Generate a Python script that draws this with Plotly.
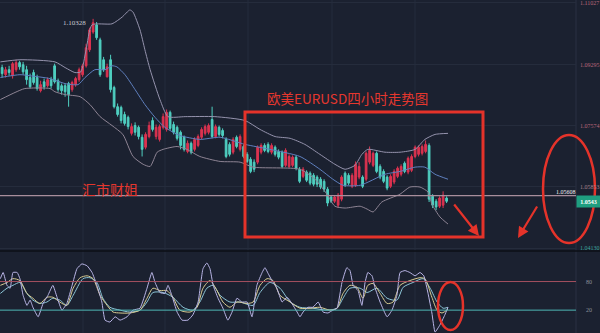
import plotly.graph_objects as go

# ---------------- data ----------------
candle_idx = list(range(128))
opens = [1.0921,1.0901,1.0915,1.0898,1.0915,1.0935,1.0929,1.0915,1.0893,1.0907,
         1.0893,1.0856,1.0881,1.0870,1.0887,1.0926,1.0884,1.0870,1.0870,1.0876,
         1.0859,1.0873,1.0887,1.0901,1.0926,1.0971,1.1021,1.1041,1.0999,1.0943,
         1.0895,1.0943,1.0865,1.0811,1.0809,1.0789,1.0781,1.0736,1.0758,1.0753,
         1.0725,1.0697,1.0727,1.0772,1.0727,1.0719,1.0753,1.0747,1.0795,1.0761,
         1.0753,1.0739,1.0725,1.0685,1.0708,1.0691,1.0702,1.0725,1.0736,1.0739,
         1.0775,1.0727,1.0753,1.0744,1.0719,1.0705,1.0683,1.0725,1.0691,1.0699,
         1.0677,1.0663,1.0655,1.0655,1.0683,1.0702,1.0705,1.0683,1.0697,1.0685,
         1.0683,1.0646,1.0643,1.0646,1.0669,1.0635,1.0615,1.0627,1.0624,1.0618,
         1.0613,1.0607,1.0601,1.0579,1.0557,1.0545,1.0534,1.0551,1.0624,1.0618,
         1.0587,1.0590,1.0613,1.0613,1.0607,1.0655,1.0646,1.0680,1.0643,1.0629,
         1.0613,1.0587,1.0599,1.0615,1.0621,1.0652,1.0627,1.0632,1.0671,1.0677,
         1.0680,1.0685,1.0702,1.0559,1.0545,1.0531,1.0534,1.0554]
closes = [1.0904,1.0915,1.0907,1.0932,1.0935,1.0923,1.0909,1.0887,1.0867,1.0879,
          1.0862,1.0873,1.0867,1.0887,1.0870,1.0881,1.0859,1.0856,1.0853,1.0845,
          1.0879,1.0890,1.0915,1.0926,1.0977,1.1027,1.1047,1.1005,1.0901,1.0915,
          1.0923,1.0859,1.0811,1.0789,1.0772,1.0764,1.0755,1.0755,1.0739,1.0727,
          1.0691,1.0733,1.0758,1.0747,1.0753,1.0755,1.0783,1.0795,1.0750,1.0739,
          1.0722,1.0702,1.0691,1.0708,1.0683,1.0719,1.0727,1.0747,1.0755,1.0758,
          1.0727,1.0755,1.0733,1.0730,1.0671,1.0677,1.0719,1.0699,1.0727,1.0671,
          1.0657,1.0629,1.0635,1.0697,1.0702,1.0688,1.0685,1.0702,1.0677,1.0669,
          1.0643,1.0688,1.0671,1.0669,1.0638,1.0601,1.0635,1.0604,1.0596,1.0593,
          1.0593,1.0585,1.0579,1.0540,1.0545,1.0557,1.0562,1.0613,1.0590,1.0596,
          1.0618,1.0649,1.0643,1.0587,1.0680,1.0688,1.0680,1.0629,1.0613,1.0601,
          1.0582,1.0615,1.0629,1.0638,1.0643,1.0629,1.0666,1.0671,1.0697,1.0697,
          1.0699,1.0705,1.0551,1.0534,1.0529,1.0554,1.0562,1.0545]
highs = [1.0929,1.0923,1.0926,1.0937,1.0943,1.0940,1.0937,1.0926,1.0904,1.0915,
         1.0901,1.0884,1.0890,1.0893,1.0895,1.0932,1.0890,1.0876,1.0876,1.0881,
         1.0884,1.0895,1.0921,1.0932,1.0988,1.1033,1.1058,1.1049,1.1005,1.0951,
         1.0932,1.0957,1.0870,1.0820,1.0814,1.0797,1.0786,1.0764,1.0767,1.0758,
         1.0733,1.0739,1.0769,1.0781,1.0761,1.0761,1.0792,1.0803,1.0800,1.0769,
         1.0758,1.0744,1.0730,1.0716,1.0713,1.0725,1.0733,1.0753,1.0761,1.0764,
         1.0811,1.0761,1.0758,1.0750,1.0725,1.0711,1.0725,1.0730,1.0733,1.0705,
         1.0683,1.0669,1.0663,1.0702,1.0708,1.0708,1.0711,1.0708,1.0702,1.0691,
         1.0688,1.0694,1.0677,1.0674,1.0674,1.0641,1.0641,1.0632,1.0629,1.0624,
         1.0618,1.0613,1.0607,1.0585,1.0562,1.0562,1.0568,1.0618,1.0629,1.0624,
         1.0624,1.0657,1.0655,1.0618,1.0685,1.0699,1.0685,1.0685,1.0649,1.0635,
         1.0618,1.0621,1.0635,1.0643,1.0649,1.0657,1.0671,1.0677,1.0702,1.0702,
         1.0705,1.0716,1.0708,1.0565,1.0551,1.0559,1.0573,1.0559]
lows = [1.0893,1.0893,1.0898,1.0890,1.0909,1.0915,1.0901,1.0873,1.0862,1.0873,
        1.0856,1.0851,1.0859,1.0865,1.0862,1.0876,1.0853,1.0845,1.0839,1.0811,
        1.0853,1.0867,1.0881,1.0895,1.0921,1.0965,1.1016,1.0999,1.0895,1.0909,
        1.0893,1.0851,1.0806,1.0783,1.0764,1.0758,1.0747,1.0730,1.0730,1.0719,
        1.0671,1.0691,1.0722,1.0741,1.0719,1.0713,1.0747,1.0741,1.0744,1.0733,
        1.0716,1.0691,1.0685,1.0680,1.0677,1.0685,1.0697,1.0719,1.0730,1.0733,
        1.0722,1.0722,1.0727,1.0722,1.0666,1.0671,1.0677,1.0694,1.0685,1.0666,
        1.0652,1.0624,1.0627,1.0649,1.0677,1.0683,1.0680,1.0677,1.0671,1.0663,
        1.0638,1.0641,1.0638,1.0641,1.0632,1.0596,1.0610,1.0599,1.0590,1.0587,
        1.0585,1.0579,1.0571,1.0531,1.0540,1.0540,1.0526,1.0545,1.0585,1.0590,
        1.0582,1.0585,1.0607,1.0582,1.0601,1.0649,1.0641,1.0624,1.0607,1.0596,
        1.0576,1.0582,1.0593,1.0610,1.0615,1.0624,1.0621,1.0627,1.0666,1.0671,
        1.0674,1.0680,1.0543,1.0526,1.0520,1.0526,1.0526,1.0540]

# Bollinger bands (traced)
bb_upper_x = [-0.5,5.1,15.1,18.0,20.8,22.5,24.0,25.7,31.4,34.3,36.5,37.4,39.4,40.8,42.3,45.1,47.4,52.3,60.8,69.4,
              73.7,78.0,82.3,86.5,90.8,95.1,98.0,100.8,102.8,104.5,109.4,113.7,118.0,120.8,123.7,127.4]
bb_upper = [1.0937,1.0943,1.0937,1.0921,1.0907,1.0909,1.0971,1.1041,1.1044,1.1063,1.1083,1.1077,1.1027,1.0971,1.0915,
            1.0831,1.0783,1.0783,1.0783,1.0772,1.0747,1.0727,1.0722,1.0705,1.0677,1.0649,1.0635,1.0646,1.0677,1.0691,
            1.0683,1.0683,1.0691,1.0719,1.0733,1.0736]
bb_mid_x = [-0.5,5.1,8.0,13.7,18.0,21.7,23.7,26.5,29.4,31.4,32.8,35.1,38.0,40.8,43.7,46.5,50.8,56.5,62.3,69.4,
            76.5,85.1,90.8,94.5,97.4,102.3,109.4,113.7,118.0,120.8,123.7,127.4]
bb_mid = [1.0893,1.0901,1.0898,1.0890,1.0876,1.0873,1.0893,1.0915,1.0915,1.0926,1.0923,1.0901,1.0859,1.0817,1.0781,
          1.0753,1.0730,1.0719,1.0725,1.0705,1.0691,1.0671,1.0635,1.0607,1.0590,1.0590,1.0621,1.0629,1.0641,1.0641,
          1.0621,1.0607]
bb_low_x = [-0.5,3.7,6.5,13.7,15.1,18.0,22.3,25.1,28.0,31.4,34.5,37.4,40.3,42.3,44.3,46.0,50.0,52.8,56.5,62.3,
            68.0,71.7,85.1,89.4,92.8,95.1,98.0,102.3,104.3,106.0,108.5,113.7,116.5,119.4,121.7,122.8,125.1,127.4]
bb_low = [1.0831,1.0851,1.0862,1.0862,1.0853,1.0845,1.0839,1.0817,1.0783,1.0758,1.0733,1.0671,1.0649,1.0643,1.0683,
          1.0691,1.0699,1.0691,1.0671,1.0657,1.0655,1.0641,1.0635,1.0607,1.0565,1.0531,1.0526,1.0531,1.0523,1.0515,
          1.0543,1.0565,1.0585,1.0585,1.0571,1.0537,1.0501,1.0481]

# KDJ oscillator (traced)
j_x = [-0.5,0.3,1.4,2.3,3.1,4.3,5.1,6.0,7.1,8.0,8.8,10.3,11.7,13.1,14.5,15.7,17.1,18.5,20.0,21.4,
       22.8,24.3,25.7,27.1,28.5,29.4,30.8,32.3,33.7,35.7,37.4,39.4,41.4,42.8,43.7,45.1,46.5,47.4,48.5,50.0,
       51.4,53.1,54.5,56.0,57.4,58.5,59.4,60.3,61.7,63.1,64.5,65.7,67.1,68.5,70.0,71.4,72.8,74.3,75.1,76.0,
       77.1,78.5,80.0,81.4,82.8,84.3,85.1,86.0,87.4,88.8,90.3,91.7,93.1,94.5,95.7,97.1,98.5,99.4,100.3,101.7,
       102.8,103.7,104.5,105.7,106.5,108.0,110.0,111.4,112.8,113.7,115.1,116.5,118.0,119.4,120.5,121.7,122.8,123.7,125.1,126.5,
       127.4]
j_val = [86,99,72,66,99,99,86,51,30,41,26,6,34,51,72,47,20,34,72,107,
         117,113,99,72,37,-1,-5,6,-1,6,20,24,66,99,78,57,55,72,51,16,
         -1,-1,10,37,107,119,107,72,45,24,-1,16,45,37,37,6,72,99,109,97,
         82,66,37,47,34,16,6,16,26,26,37,16,14,20,24,78,109,103,72,61,
         30,78,99,92,68,37,6,20,51,99,103,99,92,99,92,55,14,-26,-11,10,
         26]
k_x = [-0.5,1.4,3.1,5.1,7.1,8.8,10.8,12.8,14.5,16.5,18.5,20.3,22.3,24.3,26.0,28.0,30.0,31.7,33.7,36.5,
       39.4,41.4,43.1,45.1,47.1,48.8,50.8,53.7,55.7,57.4,59.4,61.4,63.1,65.1,67.1,70.0,71.7,73.7,75.7,77.4,
       79.4,82.3,85.1,88.0,90.8,93.7,95.7,97.4,99.4,101.4,103.1,104.5,106.0,108.0,110.0,111.7,113.7,116.5,119.4,120.8,
       122.8,124.3,125.7,127.4]
k_val = [72,78,86,82,55,45,34,47,47,37,30,66,88,92,86,51,30,16,14,14,
         20,45,66,61,61,47,20,16,26,66,82,61,37,26,37,34,37,72,86,82,
         51,37,24,24,26,20,24,55,72,68,45,72,76,55,34,37,72,82,88,86,
         47,20,14,22]
d_x = [-0.5,1.4,3.1,5.1,7.1,8.8,10.8,12.8,14.5,16.5,18.5,20.3,23.1,25.1,27.1,28.8,30.8,33.7,36.5,39.4,
       41.4,43.1,46.0,48.8,51.7,54.5,56.5,58.5,60.3,62.3,65.1,68.0,71.7,73.7,76.5,79.4,82.3,85.1,88.8,92.8,
       95.7,97.4,99.4,102.3,104.3,107.1,110.0,112.8,114.6,117.4,120.3,122.3,124.3,126.0,127.4]
d_val = [55,66,72,78,55,41,34,37,45,41,30,51,86,88,78,45,26,20,16,20,
         37,57,57,47,26,20,37,66,72,51,37,37,30,57,78,66,37,26,24,20,
         24,45,66,66,57,66,45,41,68,78,86,66,37,24,26]

price_ticks = [1.11027, 1.09295, 1.07574, 1.05853, 1.04130]
tick_text = ["1.11027", "1.09295", "1.07574", "1.05853", "1.04130"]
peak_value = 1.10328
ref_line_value = 1.05608
last_price = 1.0543
kdj_levels = [80, 20]

# ---------------- styling ----------------
BG = "#1b2130"
GRID = "#252c3c"
RED = "#dc3350"
TEAL = "#4fcfc0"
MARK = "#e5332a"
W, H = 600, 333
PLOT_W = 576
BAR_PX = 3.5
X0 = -0.6
XR = [X0, X0 + PLOT_W / BAR_PX]
MAIN_H = 250
LOW_TOP = 251

def px(x):
    return x / W

def py(y):
    return 1 - y / H

fig = go.Figure()

fig.add_trace(go.Candlestick(
    x=candle_idx, open=opens, high=highs, low=lows, close=closes,
    increasing=dict(line=dict(color=RED, width=1), fillcolor=RED),
    decreasing=dict(line=dict(color=TEAL, width=1), fillcolor=TEAL),
    whiskerwidth=0, xaxis="x", yaxis="y", hoverinfo="skip"))

fig.add_trace(go.Scatter(x=bb_upper_x, y=bb_upper, mode="lines",
                         line=dict(color="#9593ad", width=1, shape="spline", smoothing=0.6),
                         xaxis="x", yaxis="y", hoverinfo="skip"))
fig.add_trace(go.Scatter(x=bb_mid_x, y=bb_mid, mode="lines",
                         line=dict(color="#5f80bf", width=1, shape="spline", smoothing=0.6),
                         xaxis="x", yaxis="y", hoverinfo="skip"))
fig.add_trace(go.Scatter(x=bb_low_x, y=bb_low, mode="lines",
                         line=dict(color="#8e8494", width=1, shape="spline", smoothing=0.6),
                         xaxis="x", yaxis="y", hoverinfo="skip"))

fig.add_trace(go.Scatter(x=d_x, y=d_val, mode="lines",
                         line=dict(color="#8cc6d8", width=1, shape="spline", smoothing=0.7),
                         xaxis="x2", yaxis="y2", hoverinfo="skip"))
fig.add_trace(go.Scatter(x=k_x, y=k_val, mode="lines",
                         line=dict(color="#d9cd93", width=1, shape="spline", smoothing=0.7),
                         xaxis="x2", yaxis="y2", hoverinfo="skip"))
fig.add_trace(go.Scatter(x=j_x, y=j_val, mode="lines",
                         line=dict(color="#b9b5e6", width=1, shape="spline", smoothing=0.4),
                         xaxis="x2", yaxis="y2", hoverinfo="skip"))

shapes = []
for gx in [83, 165, 248, 332, 415]:
    shapes.append(dict(type="line", xref="paper", yref="paper", x0=px(gx), x1=px(gx), y0=0, y1=1,
                       line=dict(color=GRID, width=1), layer="below"))
shapes.append(dict(type="line", xref="paper", yref="paper", x0=px(PLOT_W), x1=px(PLOT_W), y0=0, y1=1,
                   line=dict(color="#2a3142", width=1), layer="below"))
# panel separator
shapes.append(dict(type="line", xref="paper", yref="paper", x0=0, x1=1, y0=py(LOW_TOP), y1=py(LOW_TOP),
                   line=dict(color="#0c0f16", width=1.5)))
# reference price line
shapes.append(dict(type="line", xref="paper", yref="y", x0=0, x1=px(PLOT_W), y0=ref_line_value, y1=ref_line_value,
                   line=dict(color="#a88e9c", width=1.2)))
# KDJ levels
for lv, col in zip(kdj_levels, ["#a5505f", "#4fb7b4"]):
    shapes.append(dict(type="line", xref="paper", yref="y2", x0=0, x1=px(PLOT_W), y0=lv, y1=lv,
                       line=dict(color=col, width=1)))
# hand-drawn marks
shapes.append(dict(type="rect", xref="paper", yref="paper", x0=px(245), x1=px(483), y0=py(237), y1=py(112),
                   line=dict(color=MARK, width=3)))
shapes.append(dict(type="circle", xref="paper", yref="paper", x0=px(543), x1=px(595), y0=py(243), y1=py(135),
                   line=dict(color=MARK, width=2.5)))
shapes.append(dict(type="circle", xref="paper", yref="paper", x0=px(438), x1=px(463), y0=py(330), y1=py(282),
                   line=dict(color=MARK, width=2.5)))

ann = []
tick_colors = ["#b9677a", "#b9677a", "#b9677a", "#a8848f", "#3fa79f"]
for v, t, c in zip(price_ticks, tick_text, tick_colors):
    ann.append(dict(xref="paper", yref="y", x=px(578), y=v, text=t, showarrow=False, xanchor="left",
                    yanchor="middle", font=dict(family="Liberation Serif", size=6, color=c)))
ann.append(dict(xref="paper", yref="y", x=px(588), y=last_price, text="<b>1.0543</b>", showarrow=False,
                xanchor="center", yanchor="middle", bgcolor="#1f9e80", width=21, height=9,
                font=dict(family="Liberation Serif", size=6, color="#ffffff")))
ann.append(dict(xref="paper", yref="y", x=px(566), y=ref_line_value, yshift=4, text="1.05608", showarrow=False,
                xanchor="center", yanchor="middle", font=dict(family="Liberation Serif", size=6, color="#f0f0f0")))
ann.append(dict(xref="paper", yref="y", x=px(74), y=peak_value, yshift=5, text="1.10328", showarrow=False,
                xanchor="center", yanchor="middle", font=dict(family="Liberation Serif", size=7, color="#c9c9d2")))
for lv in kdj_levels:
    ann.append(dict(xref="paper", yref="y2", x=px(589), y=lv, text=str(lv), showarrow=False,
                    xanchor="center", yanchor="middle", font=dict(family="Liberation Serif", size=6, color="#8c919c")))
ann.append(dict(xref="paper", yref="paper", x=px(347), y=py(98), text="欧美EURUSD四小时走势图", showarrow=False,
                xanchor="center", yanchor="middle", font=dict(family="Noto Sans CJK SC", size=13.5, color="#e5372e")))
ann.append(dict(xref="paper", yref="paper", x=px(110), y=py(189), text="汇市财姐", showarrow=False,
                xanchor="center", yanchor="middle", font=dict(family="Noto Sans CJK SC", size=14, color="#e5372e")))
# arrows
ann.append(dict(xref="paper", yref="paper", x=px(479), y=py(236), ax=-26, ay=-33, text="", showarrow=True,
                arrowhead=2, arrowsize=1, arrowwidth=2.2, arrowcolor=MARK))
ann.append(dict(xref="paper", yref="paper", x=px(518), y=py(238), ax=20, ay=-33, text="", showarrow=True,
                arrowhead=2, arrowsize=1, arrowwidth=2.2, arrowcolor=MARK))

fig.update_layout(
    width=W, height=H, margin=dict(l=0, r=0, t=0, b=0),
    paper_bgcolor=BG, plot_bgcolor="rgba(0,0,0,0)", showlegend=False,
    xaxis=dict(domain=[0, PLOT_W / W], range=XR, visible=False, rangeslider=dict(visible=False), anchor="y"),
    yaxis=dict(domain=[1 - MAIN_H / H, 1], range=[1.0408, 1.1111], tickvals=price_ticks, showticklabels=False,
               gridcolor=GRID, zeroline=False, showline=False, ticks="", anchor="x"),
    xaxis2=dict(domain=[0, PLOT_W / W], range=XR, visible=False, anchor="y2"),
    yaxis2=dict(domain=[0, (H - LOW_TOP - 1) / H], range=[-28, 142], visible=False, anchor="x2"),
    shapes=shapes, annotations=ann,
)

fig.write_html("out.html")
